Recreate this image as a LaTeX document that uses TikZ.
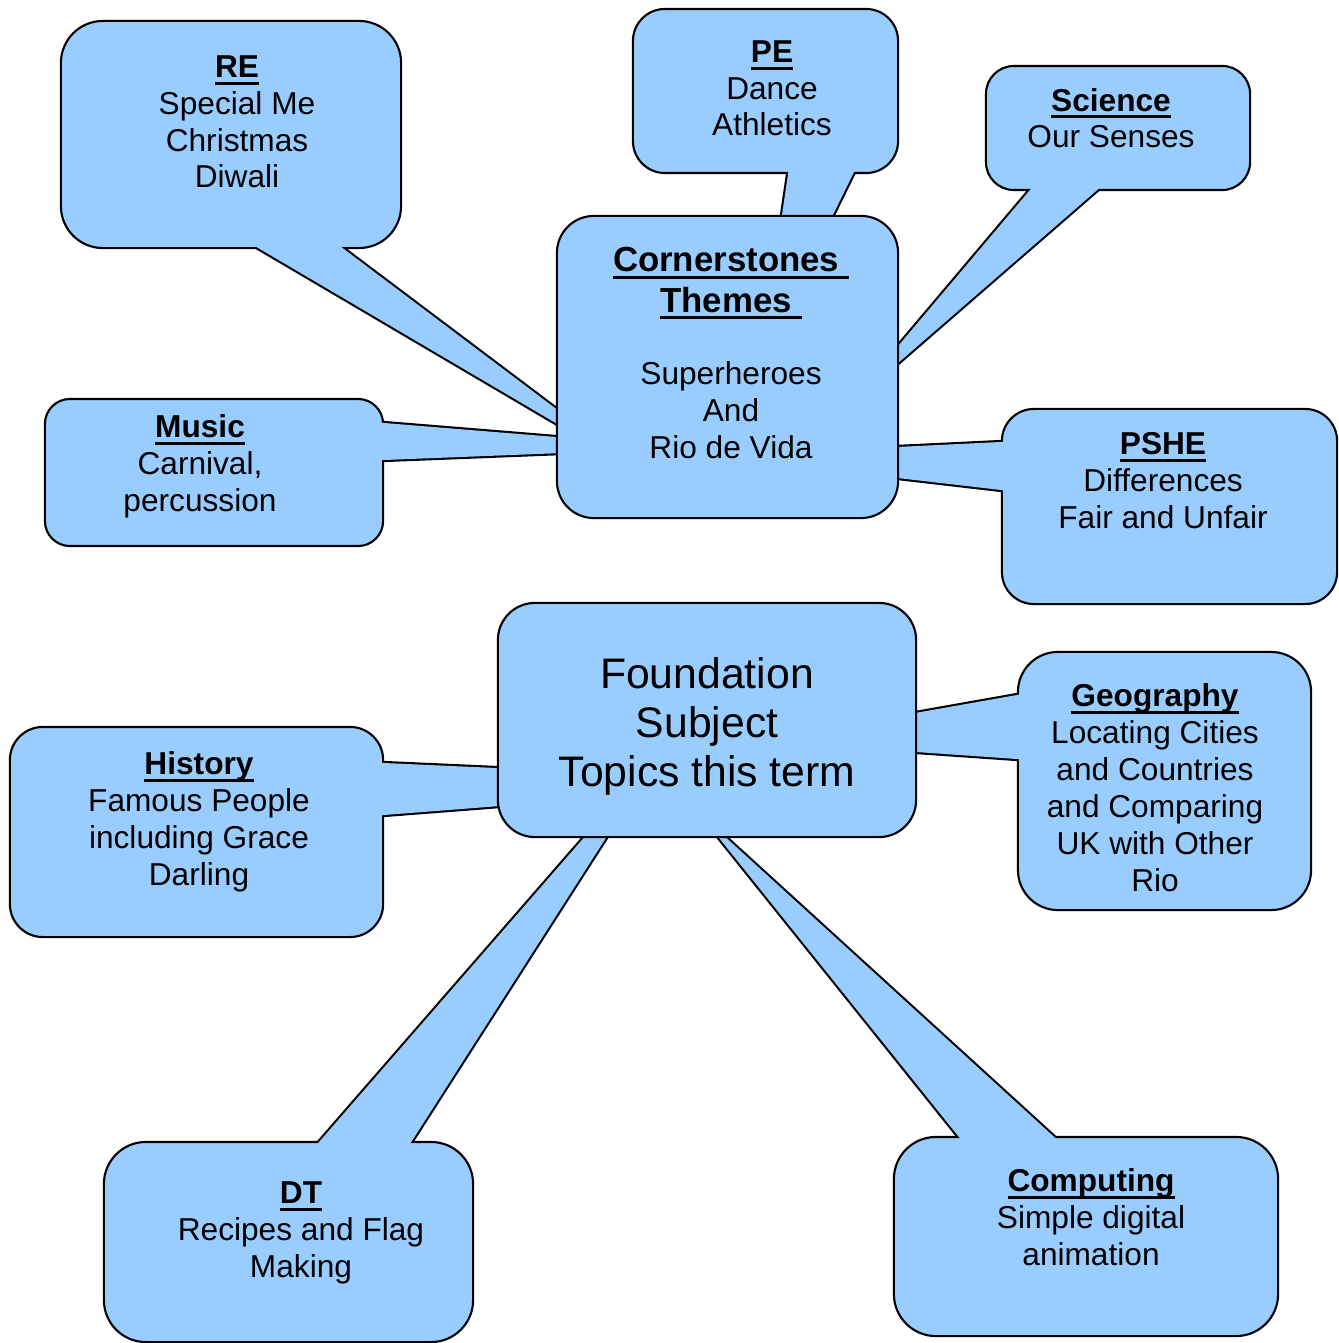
\documentclass[tikz,border=0pt]{standalone}
\usepackage{fontspec}
\setmainfont{Liberation Sans}
\usetikzlibrary{calc,backgrounds}

\definecolor{bubbleblue}{RGB}{153,204,255}
\newcommand{\bodysize}{\fontsize{9pt}{10.5pt}\selectfont}
\newcommand{\subjhead}[1]{\setbox0\hbox{\bfseries #1}\rlap{\rule[-2.1pt]{\wd0}{0.85pt}}\box0}

\begin{document}
\begin{tikzpicture}[x=0.01cm, y=-0.01cm,
    bubble/.style={draw, fill=bubbleblue, line width=0.6pt, rounded corners=#1, inner sep=0pt},
    bubble/.default=0.4cm,
    boxsize/.style 2 args={minimum width=#1, minimum height=#2},
    tailline/.style={draw, line width=1.2pt, line join=round},
    tailfill/.style={fill=bubbleblue},
    txt/.style={anchor=base, align=center, inner sep=0pt, font=\bodysize}]
  \useasboundingbox (0,0) rectangle (1338,1343);

  % outer callouts
  \node[bubble=0.42cm, boxsize={3.40cm}{2.27cm}] (re) at (231,134.5) {};
  \node[bubble=0.32cm, boxsize={2.65cm}{1.64cm}] (pe) at (765.5,91) {};
  \node[bubble=0.28cm, boxsize={2.64cm}{1.24cm}] (sci) at (1118,128) {};
  \node[bubble=0.25cm, boxsize={3.38cm}{1.47cm}] (mus) at (214,472.5) {};
  \node[bubble=0.32cm, boxsize={3.35cm}{1.95cm}] (pshe) at (1169.5,506.5) {};
  \node[bubble=0.33cm, boxsize={3.73cm}{2.10cm}] (hist) at (196.5,832) {};
  \node[bubble=0.40cm, boxsize={2.93cm}{2.58cm}] (geo) at (1164.5,781) {};
  \node[bubble=0.42cm, boxsize={3.69cm}{2.00cm}] (dt) at (288.5,1242) {};
  \node[bubble=0.42cm, boxsize={3.84cm}{1.99cm}] (comp) at (1086,1236.5) {};

  % tails: two points on the callout edge, tip inside the middle box
  \coordinate (re-a) at (260,0 |- re.south);
  \coordinate (re-b) at (344,0 |- re.south);
  \coordinate (re-tip) at (644,475);
  \coordinate (pe-a) at (788,0 |- pe.south);
  \coordinate (pe-b) at (853,0 |- pe.south);
  \coordinate (pe-tip) at (760,364);
  \coordinate (sci-a) at (1029,0 |- sci.south);
  \coordinate (sci-b) at (1096,0 |- sci.south);
  \coordinate (sci-tip) at (844,410);
  \coordinate (mus-a) at (mus.east |- 0,423);
  \coordinate (mus-b) at (mus.east |- 0,460);
  \coordinate (mus-tip) at (691,448);
  \coordinate (pshe-a) at (pshe.west |- 0,442);
  \coordinate (pshe-b) at (pshe.west |- 0,490);
  \coordinate (pshe-tip) at (708,456);
  \coordinate (hist-a) at (hist.east |- 0,763);
  \coordinate (hist-b) at (hist.east |- 0,815);
  \coordinate (hist-tip) at (810,782);
  \coordinate (geo-a) at (geo.west |- 0,695);
  \coordinate (geo-b) at (geo.west |- 0,759);
  \coordinate (geo-tip) at (757,741);
  \coordinate (dt-a) at (320,0 |- dt.north);
  \coordinate (dt-b) at (412,0 |- dt.north);
  \coordinate (dt-tip) at (668,741);
  \coordinate (comp-a) at (958,0 |- comp.north);
  \coordinate (comp-b) at (1053,0 |- comp.north);
  \coordinate (comp-tip) at (699,813);

  \begin{scope}[on background layer]
    \foreach \nm in {re,pe,sci,mus,pshe,hist,geo,dt,comp}
      \draw[tailline] ($(\nm-tip)!1.03!(\nm-a)$) -- (\nm-tip) -- ($(\nm-tip)!1.03!(\nm-b)$) -- cycle;
  \end{scope}
  \foreach \nm in {re,pe,sci,mus,pshe,hist,geo,dt,comp}
    \fill[tailfill] ($(\nm-tip)!1.03!(\nm-a)$) -- (\nm-tip) -- ($(\nm-tip)!1.03!(\nm-b)$) -- cycle;

  % middle boxes
  \node[bubble=0.37cm, boxsize={3.41cm}{3.02cm}] (corner) at (727.5,367) {};
  \node[bubble=0.37cm, boxsize={4.18cm}{2.34cm}] (found) at (707,720) {};

  % texts (placed by the baseline of their last line)
  \node[txt] (re-t) at (237,188) {\subjhead{RE}\\Special Me\\Christmas\\Diwali};
  \node[txt] (pe-t) at (772,136) {\subjhead{PE}\\Dance\\Athletics};
  \node[txt] (sci-t) at (1111,148) {\subjhead{Science}\\Our Senses};
  \node[txt] (mus-t) at (200,511) {\subjhead{Music}\\Carnival,\\percussion};
  \node[txt] (pshe-t) at (1163,528) {\subjhead{PSHE}\\Differences\\Fair and Unfair};
  \node[txt] (hist-t) at (199,885) {\subjhead{History}\\Famous People\\including Grace\\Darling};
  \node[txt] (geo-t) at (1155,891) {\subjhead{Geography}\\Locating Cities\\and Countries\\and Comparing\\UK with Other\\Rio};
  \node[txt] (dt-t) at (301,1277) {\subjhead{DT}\\Recipes and Flag\\Making};
  \node[txt] (comp-t) at (1091,1265) {\subjhead{Computing}\\Simple digital\\animation};
  \node[txt] (corner-t) at (731,458) {{\fontsize{9.9pt}{10.5pt}\selectfont\subjhead{Cornerstones\ }}\\[1pt]{\fontsize{9.9pt}{10.5pt}\selectfont\subjhead{Themes\ }}\\[10pt]Superheroes\\And\\Rio de Vida};
  \node[txt, font=\fontsize{12.15pt}{13.9pt}\selectfont] (found-t) at (707,786) {Foundation\\Subject\\Topics this term};
\end{tikzpicture}
\end{document}
